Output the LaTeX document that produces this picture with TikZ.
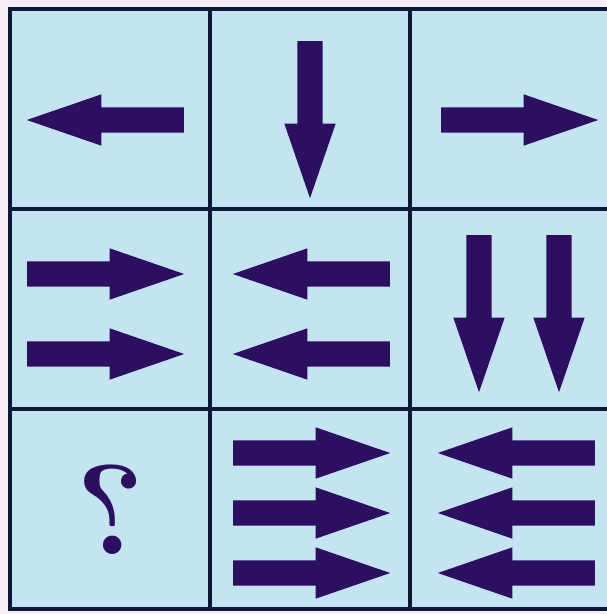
\documentclass[tikz,border=0pt]{standalone}
\usepackage{graphicx}
\usetikzlibrary{shapes.arrows}

\definecolor{paper}{HTML}{F6EEF4}
\definecolor{cellblue}{HTML}{C5E4F1}
\definecolor{gridnavy}{HTML}{0B1836}
\definecolor{inkpurple}{HTML}{2D0F62}

\begin{document}
\begin{tikzpicture}[x=1pt,y=-1pt,
    cell/.style={draw=gridnavy,fill=cellblue,line width=4pt,minimum width=200pt,minimum height=200pt,inner sep=0pt},
    blk/.style={single arrow,fill=inkpurple,inner sep=0pt,text width=25pt,text height=25pt,text depth=0pt,minimum height=157pt,
        single arrow head extend=13pt,single arrow tip angle=38,single arrow head indent=0pt,anchor=tail},
    east/.style={blk,shape border rotate=0},
    west/.style={blk,shape border rotate=180},
    south/.style={blk,shape border rotate=270}
]
\fill[paper] (0,0) rectangle (606,614);
\useasboundingbox (0,0) rectangle (606,614);

% the nine cells
\node[cell] (c11) at (110,109) {};
\node[cell] (c12) at (310,109) {};
\node[cell] (c13) at (510,109) {};
\node[cell] (c21) at (110,309) {};
\node[cell] (c22) at (310,309) {};
\node[cell] (c23) at (510,309) {};
\node[cell] (c31) at (110,509) {};
\node[cell] (c32) at (310,509) {};
\node[cell] (c33) at (510,509) {};

% first row
\node[west] (a11) at (184,120) {};
\node[south] (a12) at (310,41) {};
\node[east] (a13) at (441,120) {};

% second row
\node[east] (a21a) at (27,274) {};
\node[east] (a21b) at (27,354) {};
\node[west] (a22a) at (390,274) {};
\node[west] (a22b) at (390,354) {};
\node[south] (a23a) at (479,235) {};
\node[south] (a23b) at (559,235) {};

% third row
\node[text=inkpurple,font=\fontsize{128}{128}\selectfont\bfseries] (q) at (111,510) {\reflectbox{?}};
\node[east] (a32a) at (233,453) {};
\node[east] (a32b) at (233,513) {};
\node[east] (a32c) at (233,573) {};
\node[west] (a33a) at (595,453) {};
\node[west] (a33b) at (595,513) {};
\node[west] (a33c) at (595,573) {};
\end{tikzpicture}
\end{document}
